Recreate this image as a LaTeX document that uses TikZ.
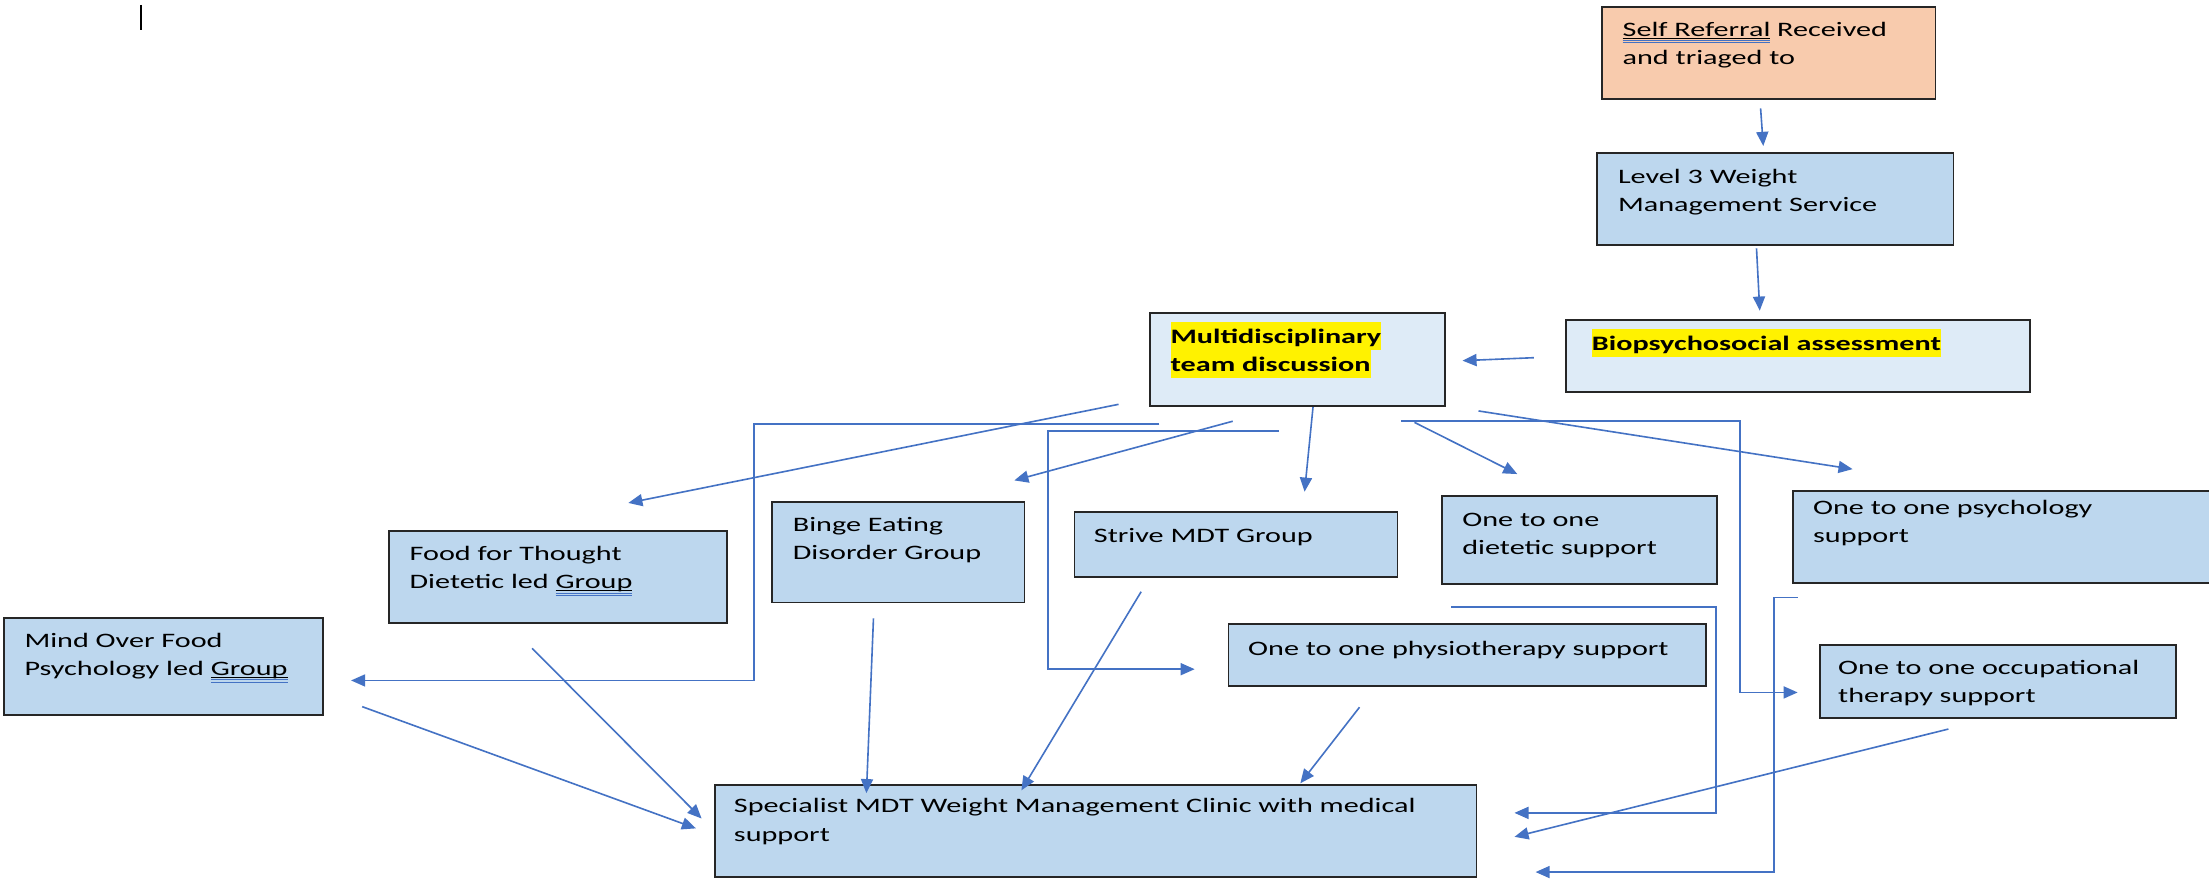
\documentclass[tikz,border=0pt]{standalone}
\usepackage{fontspec}
\setmainfont{Carlito}[FakeStretch=1.47]
\usetikzlibrary{arrows.meta}
\definecolor{lnc}{HTML}{4472C4}
\definecolor{bfc}{HTML}{BDD7EE}
\definecolor{lfc}{HTML}{DEEBF7}
\definecolor{pfc}{HTML}{F8CBAD}
\definecolor{bdc}{HTML}{262626}
\newcommand\mystrut{\rule[-3.3pt]{0pt}{14pt}}
\newcommand\yhl[1]{{\setlength\fboxsep{0pt}\colorbox{yellow}{\mystrut#1}}}
\newsavebox\spbox
\newcommand\spell[1]{\sbox\spbox{#1}\rlap{\rule[-1.2pt]{\wd\spbox}{0.45pt}}\rlap{\color{lnc}\rule[-2.4pt]{\wd\spbox}{0.45pt}}\rlap{\color{lnc}\rule[-3.6pt]{\wd\spbox}{0.45pt}}\usebox\spbox}
\newcommand\bx[6]{\node[boxst,fill=#6,anchor=north west,minimum width={(#4-#2)*0.7pt},minimum height={(#5-#3)*0.7pt}] (#1) at (#2,#3) {};}
\newcommand\tx[4]{\node[txtst] (#1) at (#2,#3-15.3) {\mystrut#4};}
\begin{document}
\begin{tikzpicture}[x=0.7pt,y=-0.7pt,
  boxst/.style={draw=bdc,line width=0.9pt,inner sep=0pt,outer sep=0pt},
  conn/.style={draw=lnc,line width=0.8pt},
  arr/.style={conn,-{Triangle[length=7pt,width=6pt]}},
  txtst/.style={inner sep=0pt,outer sep=0pt,anchor=north west,align=left,
    font=\fontsize{10.2}{14}\selectfont}]
\useasboundingbox[fill=white] (0,0) rectangle (1568,624.65);
% cursor mark
\coordinate (cur1) at (100,3.5);
\coordinate (cur2) at (100,21);
\draw[line width=1.2pt,black] (cur1) -- (cur2);
% boxes
\bx{sr}{1137.2}{5.2}{1373.8}{70.5}{pfc}
\bx{lv}{1133.7}{108.4}{1386.6}{173.9}{bfc}
\bx{bio}{1111.3}{227.2}{1440.7}{278.3}{lfc}
\bx{mdt}{816.3}{222.4}{1025.4}{288.2}{lfc}
\bx{food}{276}{376.7}{516}{442}{bfc}
\bx{binge}{548}{356.1}{727.2}{427.6}{bfc}
\bx{strive}{762.7}{363.2}{991.9}{409.3}{bfc}
\bx{diet}{1023.6}{352}{1219}{414.5}{bfc}
\bx{psy}{1272.5}{348.3}{1600}{414}{bfc}
\bx{mind}{2.9}{438.4}{229.3}{507.5}{bfc}
\bx{phys}{872}{443.2}{1211}{487}{bfc}
\bx{ot}{1291.7}{457.8}{1544.6}{509.7}{bfc}
\bx{spec}{507.6}{557}{1048}{622.5}{bfc}
% texts
\tx{tsr}{1151.8}{25.6}{\spell{Self Referral} Received\\and triaged to}
\tx{tlv}{1148.5}{130}{Level 3 Weight\\Management Service}
\tx{tbio}{1130}{248.5}{\bfseries\yhl{Biopsychosocial assessment}}
\node[txtst,font=\fontsize{10.2}{14}\selectfont\bfseries] (tmdt) at (830.9,243.6-15.3) {\yhl{Multidisciplinary}\\\yhl{team discussion}};
\tx{tfood}{290.8}{398}{Food for Thought\\Dietetic led \spell{Group}}
\tx{tmind}{17.4}{459.5}{Mind Over Food\\Psychology led \spell{Group}}
\tx{tbinge}{562.8}{377.4}{Binge Eating\\Disorder Group}
\tx{tstrive}{776.5}{385.2}{Strive MDT Group}
\tx{tphys}{886}{465}{One to one physiotherapy support}
\tx{tdiet}{1038}{373.8}{One to one\\dietetic support}
\tx{tpsy}{1287}{364.9}{One to one psychology\\support}
\tx{tot}{1304.8}{479}{One to one occupational\\therapy support}
\tx{tspec}{521}{577}{Specialist MDT Weight Management Clinic with medical\\support}
% connector end points
\coordinate (a1) at (1249.7,76.9);  \coordinate (a2) at (1251.6,103.6);
\coordinate (b1) at (1246.8,176.3); \coordinate (b2) at (1249.1,220.5);
\coordinate (c1) at (1088.8,253.9); \coordinate (c2) at (1038.1,256);
\coordinate (d1) at (794,287);      \coordinate (d2) at (446,357);
\coordinate (e1) at (823,301);      \coordinate (e2) at (535.3,301);
\coordinate (e3) at (535.3,483);    \coordinate (e4) at (249.2,483);
\coordinate (f1) at (875,299);      \coordinate (f2) at (720,341);
\coordinate (g1) at (908,306);      \coordinate (g2) at (744,306);
\coordinate (g3) at (744,475);      \coordinate (g4) at (848,475);
\coordinate (h1) at (932,289);      \coordinate (h2) at (926,349);
\coordinate (i1) at (1004,299.8);   \coordinate (i2) at (1077,336.5);
\coordinate (j1) at (994.5,298.9);  \coordinate (j2) at (1235,298.9);
\coordinate (j3) at (1235,491.5);   \coordinate (j4) at (1276,491.5);
\coordinate (k1) at (1049.5,291.7); \coordinate (k2) at (1315,333);
\coordinate (l1) at (257.1,501.6);  \coordinate (l2) at (494,588);
\coordinate (m1) at (377.7,460.2);  \coordinate (m2) at (498,581);
\coordinate (n1) at (620,439);      \coordinate (n2) at (615,563);
\coordinate (o1) at (810,420);      \coordinate (o2) at (725,561);
\coordinate (p1) at (965,502);      \coordinate (p2) at (923,556);
\coordinate (q1) at (1030,431);     \coordinate (q2) at (1218,431);
\coordinate (q3) at (1218,577);     \coordinate (q4) at (1075,577);
\coordinate (r1) at (1383,517.5);   \coordinate (r2) at (1075,594);
\coordinate (s1) at (1276,424);     \coordinate (s2) at (1259,424);
\coordinate (s3) at (1259,619);     \coordinate (s4) at (1090,619);
% connectors
\draw[arr] (a1) -- (a2);
\draw[arr] (b1) -- (b2);
\draw[arr] (c1) -- (c2);
\draw[arr] (d1) -- (d2);
\draw[arr] (e1) -- (e2) -- (e3) -- (e4);
\draw[arr] (f1) -- (f2);
\draw[arr] (g1) -- (g2) -- (g3) -- (g4);
\draw[arr] (h1) -- (h2);
\draw[arr] (i1) -- (i2);
\draw[arr] (j1) -- (j2) -- (j3) -- (j4);
\draw[arr] (k1) -- (k2);
\draw[arr] (l1) -- (l2);
\draw[arr] (m1) -- (m2);
\draw[arr] (n1) -- (n2);
\draw[arr] (o1) -- (o2);
\draw[arr] (p1) -- (p2);
\draw[arr] (q1) -- (q2) -- (q3) -- (q4);
\draw[arr] (r1) -- (r2);
\draw[arr] (s1) -- (s2) -- (s3) -- (s4);
\end{tikzpicture}
\end{document}
